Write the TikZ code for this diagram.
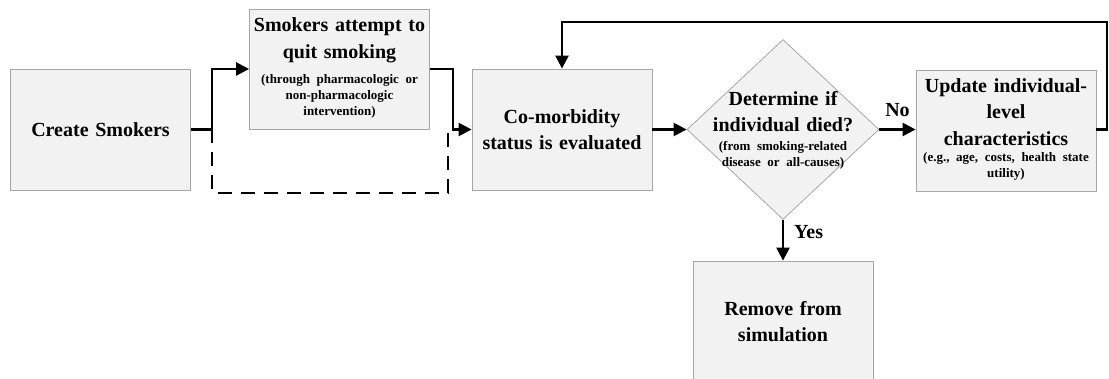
\documentclass[tikz,border=0pt]{standalone}
\usepackage{fontspec}
\setmainfont{Liberation Serif}
\usetikzlibrary{arrows.meta,shapes.geometric}

\tikzset{
  stepbox/.style={draw=gray!70, fill=gray!10, line width=0.8pt,
    minimum width=180pt, minimum height=121pt, inner sep=1pt,
    text width=176pt, align=center,
    font=\bfseries\fontsize{20}{26.5}\selectfont},
  arr/.style={line width=2.4pt, -{Triangle[length=13pt,width=13pt]}},
  skipline/.style={line width=2.4pt, dash pattern=on 14pt off 9pt},
  lbl/.style={font=\bfseries\fontsize{20}{24}\selectfont, inner sep=1pt},
}
\newcommand{\note}[2][6pt]{\par\vspace{#1}{\fontsize{13}{16}\selectfont
  \begin{tabular}{@{}c@{}}#2\end{tabular}\par}}

\begin{document}
\begin{tikzpicture}[x=1pt,y=-1pt]
\useasboundingbox (0,0) rectangle (1109,379);

% boxes
\node[stepbox] (cs) at (100.5,129.5) {Create Smokers};
\node[stepbox, minimum height=120pt] (quit) at (339.5,69) {Smokers attempt to\\ quit smoking
  \note[8pt]{(through pharmacologic or\\ non-pharmacologic\\ intervention)}};
\node[stepbox] (com) at (562,129.5) {Co-morbidity\\ status is evaluated};
\node[diamond, draw=gray!70, fill=gray!10, line width=0.8pt, inner sep=0pt,
  minimum width=192pt, minimum height=180pt] (dia) at (783,129.5) {};
\node[align=center, text width=170pt,
  font=\bfseries\fontsize{20}{26.5}\selectfont] (diatext) at (783,131)
  {Determine if\\ individual died?\note[6pt]{(from smoking-related\\ disease or all-causes)}};
\node[stepbox] (upd) at (1006,130.5) {Update individual-\\ level\\ characteristics
  \note[4.5pt]{(e.g., age, costs, health state\\ utility)}};
\node[stepbox] (rem) at (783,321.5) {Remove from\\ simulation};

% helper points
\coordinate (split) at (212,129.5);
\coordinate (join) at (453,129.5);
\coordinate (low) at (448,193);
\coordinate (ret) at (1107,22);

% connectors
\draw[arr] (cs.east) -- (split) |- (quit.west);
\draw[arr] (quit.east) -| (join) -- (com.west);
\draw[skipline] (split) |- (low) -- (low |- com.west);
\draw[arr] (com.west -| com.east) -- (dia.west);
\draw[arr] (dia.east) -- node[lbl, above=11pt] {No} (dia.east -| upd.west);
\draw[arr] (dia.south) -- node[lbl, right=9pt, pos=0.3] {Yes} (rem.north);
\draw[arr] (upd.east |- dia.east) -| (ret) -| (com.north);
\end{tikzpicture}
\end{document}
